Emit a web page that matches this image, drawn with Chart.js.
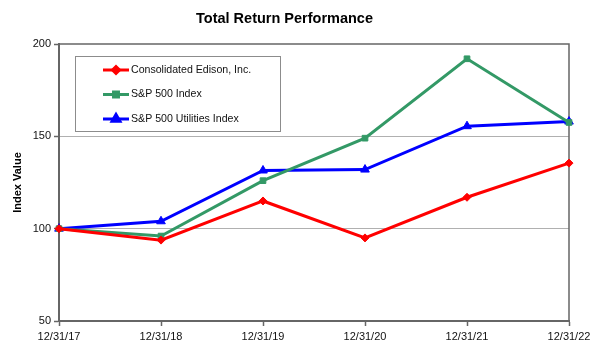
<!DOCTYPE html>
<html>
<head>
<meta charset="utf-8">
<script src="https://cdn.jsdelivr.net/npm/chart.js@4"></script>
<style>
  html, body { margin: 0; padding: 0; background: #fff; }
  #wrap { width: 600px; height: 353px; }
</style>
</head>
<body>
<div id="wrap"><canvas id="perf-chart" width="600" height="353"></canvas></div>
<script>
const years = ['12/31/17', '12/31/18', '12/31/19', '12/31/20', '12/31/21', '12/31/22'];
const conEd = [100, 93.8, 115, 95, 117, 135.5];
const sp500 = [100, 96, 126, 149, 192, 157.5];
const spUtil = [100, 104, 131.5, 132, 155.5, 158];
const yTicks = [50, 100, 150, 200];

const fontFamily = '"Liberation Sans", Arial, sans-serif';

// legend box drawn inside the plot, like the original
const boxLegend = {
    id: 'boxLegend',
    afterDatasetsDraw(chart) {
        const ctx = chart.ctx;
        const x0 = 75, y0 = 56, w = 205, h = 75;
        ctx.save();
        ctx.fillStyle = '#fff';
        ctx.fillRect(x0, y0, w, h);
        ctx.strokeStyle = '#8c8c8c';
        ctx.lineWidth = 1;
        ctx.strokeRect(x0 + 0.5, y0 + 0.5, w, h);
        ctx.font = '10.6px ' + fontFamily;
        ctx.textBaseline = 'middle';
        chart.data.datasets.forEach((ds, i) => {
            const y = 70 + i * 24.5;
            ctx.strokeStyle = ds.borderColor;
            ctx.lineWidth = 3;
            ctx.beginPath();
            ctx.moveTo(103, y);
            ctx.lineTo(129, y);
            ctx.stroke();
            Chart.helpers.drawPoint(ctx, {
                pointStyle: ds.pointStyle,
                radius: ds.pointRadius - 0.5,
                borderWidth: 1
            }, 116, y);
            ctx.fillStyle = ds.borderColor;
            ctx.fill();
            ctx.fillStyle = '#111';
            ctx.fillText(ds.label, 131, y);
        });
        ctx.restore();
    }
};

// top and right edges of the plot frame
const frame = {
    id: 'frame',
    beforeDatasetsDraw(chart) {
        const { ctx, chartArea: a } = chart;
        ctx.save();
        ctx.strokeStyle = '#666';
        ctx.lineWidth = 1.5;
        ctx.beginPath();
        ctx.moveTo(a.left, a.top);
        ctx.lineTo(a.right, a.top);
        ctx.lineTo(a.right, a.bottom);
        ctx.stroke();
        ctx.restore();
    }
};

function makeSet(label, data, color, style, radius) {
    return {
        label: label,
        data: data,
        borderColor: color,
        backgroundColor: color,
        borderWidth: 3,
        pointStyle: style,
        pointRadius: radius,
        pointHoverRadius: radius,
        pointBorderWidth: 1,
        tension: 0,
        clip: false
    };
}

new Chart(document.getElementById('perf-chart'), {
    type: 'line',
    data: {
        labels: years,
        datasets: [
            makeSet('Consolidated Edison, Inc.', conEd, '#ff0000', 'rectRot', 4),
            makeSet('S&P 500 Index', sp500, '#339966', 'rect', 4),
            makeSet('S&P 500 Utilities Index', spUtil, '#0000ff', 'triangle', 5)
        ]
    },
    options: {
        responsive: false,
        animation: false,
        layout: { padding: { left: 0, right: 31, top: 0, bottom: 0 } },
        plugins: {
            legend: { display: false },
            tooltip: { enabled: false },
            title: {
                display: true,
                text: 'Total Return Performance',
                color: '#000',
                font: { family: fontFamily, size: 14.5, weight: 'bold' },
                padding: { top: 10, bottom: 16.6 }
            }
        },
        scales: {
            x: {
                offset: false,
                border: { color: '#666', width: 2 },
                grid: {
                    drawOnChartArea: false,
                    tickLength: 5,
                    tickColor: '#666',
                    tickWidth: 1.5
                },
                ticks: {
                    color: '#111',
                    font: { family: fontFamily, size: 11 },
                    maxRotation: 0,
                    padding: 4
                },
                afterFit(scale) { scale.height = 32; }
            },
            y: {
                min: 50,
                max: 200,
                afterBuildTicks(scale) {
                    scale.ticks = yTicks.map(v => ({ value: v }));
                },
                border: { color: '#666', width: 2 },
                grid: {
                    color: ctx => (ctx.tick && (ctx.tick.value === 100 || ctx.tick.value === 150)) ? '#b0b0b0' : 'rgba(0,0,0,0)',
                    borderDash: [2, 2],
                    tickColor: '#666',
                    tickBorderDash: [],
                    tickLength: 5,
                    tickWidth: 1.5
                },
                ticks: {
                    color: '#111',
                    font: { family: fontFamily, size: 11 },
                    padding: 3
                },
                title: {
                    display: true,
                    text: 'Index Value',
                    color: '#000',
                    font: { family: fontFamily, size: 11, weight: 'bold' },
                    padding: { top: 11, bottom: 4 }
                },
                afterFit(scale) { scale.width = 59; }
            }
        }
    },
    plugins: [frame, boxLegend]
});
</script>
</body>
</html>
